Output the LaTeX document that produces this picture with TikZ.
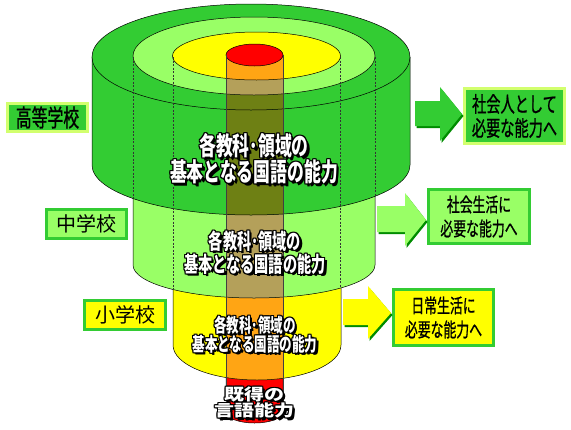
\documentclass[tikz,border=0pt]{standalone}
\usepackage{fontspec}
\usetikzlibrary{calc,shadows}
\newfontfamily\jp{Noto Sans CJK JP}
\newfontfamily\jpnarrow{Noto Sans CJK JP}[FakeStretch=0.66]
\newfontfamily\jpbox{Noto Sans CJK JP}[FakeStretch=0.66, FakeBold=0.8]
\newfontfamily\jpwide{Noto Sans CJK JP}[FakeStretch=1.25]
\definecolor{hsgreen}{RGB}{51,204,51}
\definecolor{jhgreen}{RGB}{153,255,102}
\definecolor{elyellow}{RGB}{255,255,0}
\definecolor{corered}{RGB}{255,0,0}
\definecolor{coreorange}{RGB}{255,165,20}
\definecolor{coretan}{RGB}{180,160,90}
\definecolor{coreolive}{RGB}{110,128,20}
\definecolor{hsborder}{RGB}{210,255,110}
\definecolor{arrowshade}{RGB}{0,140,0}
\newcommand{\outlinetext}[4]{%
  \foreach \dx/\dy in {-1/-1,0/-1,1/-1,-1/0,1/0,-1/1,0/1,1/1,2/2,2.5/2.5}
    \node[cyltext, text=black, font=#3] at ($(#2)+(\dx,\dy)$) {#4};
  \node[cyltext, text=white, font=#3] (#1) at (#2) {#4};
}
\begin{document}
\begin{tikzpicture}[x=1pt, y=-1pt,
    face/.style={draw=black, line width=0.5pt},
    hidden/.style={draw=black!80, dash pattern=on 2pt off 1.5pt, line width=0.4pt},
    schoolbox/.style={draw, line width=3pt, inner sep=0pt, font=\jp\fontsize{20}{20}\selectfont},
    goalbox/.style={draw, line width=3pt, inner sep=0pt, align=center, font=\jpbox\fontsize{19.5}{24}\selectfont},
    blockarrow/.style={drop shadow={shadow xshift=1.5pt, shadow yshift=-2pt, fill=arrowshade, opacity=1}},
    cyltext/.style={align=center, inner sep=0pt}]
  \useasboundingbox (0,0) rectangle (571,429);
  \fill[white] (0,0) rectangle (571,429);

  \filldraw[face, fill=corered] (226,370) -- (226,412) arc[start angle=180, end angle=0, x radius=28.5, y radius=11] -- (283,370) -- cycle;

  \begin{scope}
    \clip (173,265) -- (173,345) arc[start angle=180, end angle=0, x radius=84, y radius=35] -- (341,265) -- cycle;
    \fill[elyellow] (0,0) rectangle (571,429);
    \fill[coreorange] (226,0) rectangle (283,429);
  \end{scope}
  \draw[face] (173,265) -- (173,345) arc[start angle=180, end angle=0, x radius=84, y radius=35] -- (341,265);

  \begin{scope}
    \clip (133,165) -- (133,265) arc[start angle=180, end angle=0, x radius=121, y radius=33] -- (375,165) -- cycle;
    \fill[jhgreen] (0,0) rectangle (571,429);
    \fill[coretan] (226,0) rectangle (283,429);
  \end{scope}
  \draw[face] (133,165) -- (133,265) arc[start angle=180, end angle=0, x radius=121, y radius=33] -- (375,165);

  \begin{scope}
    \clip (92,57) -- (92,165) arc[start angle=180, end angle=0, x radius=159, y radius=50] -- (410,57) -- cycle;
    \fill[hsgreen] (0,0) rectangle (571,429);
    \fill[coreolive] (226,0) rectangle (283,429);
  \end{scope}
  \draw[face] (92,57) -- (92,165) arc[start angle=180, end angle=0, x radius=159, y radius=50] -- (410,57);

  \begin{scope}
    \clip (251,57) ellipse[x radius=159, y radius=53];
    \fill[hsgreen] (0,0) rectangle (571,429);
    \fill[coreolive] (226,55) rectangle (283,429);
  \end{scope}
  \draw[face] (251,57) ellipse[x radius=159, y radius=53];
  \begin{scope}
    \clip (254,56) ellipse[x radius=121, y radius=39];
    \fill[jhgreen] (0,0) rectangle (571,429);
    \fill[coretan] (226,55) rectangle (283,429);
  \end{scope}
  \draw[face] (254,56) ellipse[x radius=121, y radius=39];
  \begin{scope}
    \clip (256.5,56) ellipse[x radius=84, y radius=24];
    \fill[elyellow] (0,0) rectangle (571,429);
    \fill[coreorange] (226,55) rectangle (283,429);
  \end{scope}
  \draw[face] (256.5,56) ellipse[x radius=84, y radius=24];
  \filldraw[face, fill=corered] (254.5,55) ellipse[x radius=28.5, y radius=11];

  \draw[face, draw=black!75] (226,55) -- (226,412) (283,55) -- (283,412);
  \draw[hidden] (133,57) -- (133,198) (375,57) -- (375,196)
                (173,57) -- (173,289) (340,57) -- (340,288);

  \outlinetext{hstext}{254,159}{\jpnarrow\bfseries\fontsize{25.5}{26}\selectfont}{各教科･領域の\\基本となる国語の能力}
  \outlinetext{jhtext}{255,252.5}{\jpnarrow\bfseries\fontsize{21.5}{23}\selectfont}{各教科･領域の\\基本となる国語の能力}
  \outlinetext{eltext}{255,334.5}{\jpnarrow\bfseries\fontsize{19}{19}\selectfont}{各教科･領域の\\基本となる国語の能力}
  \outlinetext{coretext}{254,402.5}{\jpwide\bfseries\fontsize{16}{15}\selectfont}{既得の\\言語能力}

  \node[schoolbox, fill=hsgreen, draw=hsborder, minimum width=80pt, minimum height=28pt,
        font=\jpbox\fontsize{24}{24}\selectfont] (hs) at (47.5,117.5) {高等学校};
  \node[schoolbox, fill=jhgreen, draw=hsgreen, minimum width=80pt, minimum height=29pt] (jh) at (86.5,224) {中学校};
  \node[schoolbox, fill=elyellow, draw=hsgreen, minimum width=81pt, minimum height=29pt] (el) at (125,315) {小学校};

  \node[goalbox, fill=hsgreen, draw=hsborder, minimum width=100pt, minimum height=55pt,
        font=\jpbox\fontsize{21.5}{24}\selectfont] (hsgoal) at (514.5,116) {社会人として\\必要な能力へ};
  \node[goalbox, fill=jhgreen, draw=hsgreen, minimum width=101pt, minimum height=54pt] (jhgoal) at (479,216.5) {社会生活に\\必要な能力へ};
  \node[goalbox, fill=elyellow, draw=hsgreen, minimum width=100pt, minimum height=56pt] (elgoal) at (443.5,317.5) {日常生活に\\必要な能力へ};

  \fill[blockarrow, hsgreen] (415,101) -- (440,101) -- (440,87) -- (462,114) -- (440,141) -- (440,126) -- (415,126) -- cycle;
  \fill[blockarrow, jhgreen] (377,206) -- (405,206) -- (405,193) -- (426,220) -- (405,246) -- (405,232) -- (377,232) -- cycle;
  \fill[blockarrow, elyellow] (343,299) -- (368,299) -- (368,286) -- (391,313) -- (368,339) -- (368,325) -- (343,325) -- cycle;
\end{tikzpicture}
\end{document}
